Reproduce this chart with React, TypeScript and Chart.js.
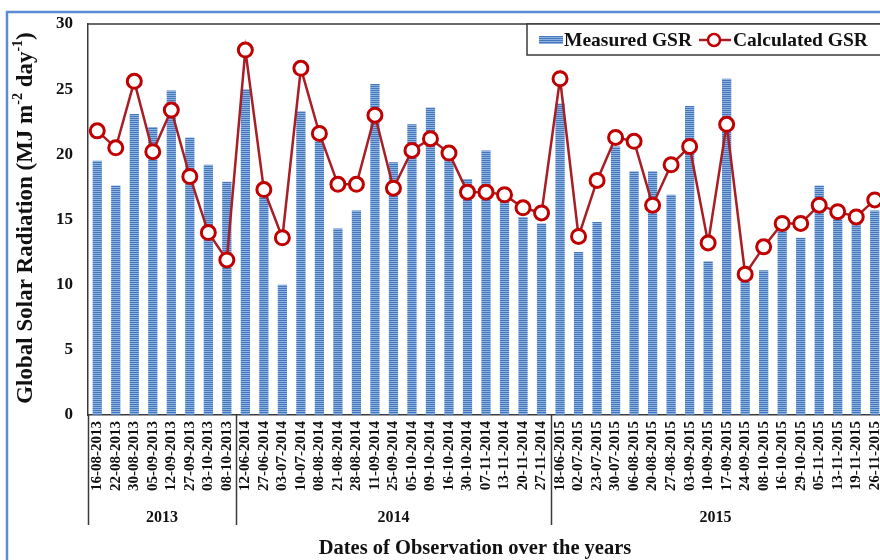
import React, { useEffect, useRef } from 'react';
import { Chart, registerables } from 'chart.js';
Chart.register(...registerables);

const dates = [
  '16-08-2013', '22-08-2013', '30-08-2013', '05-09-2013', '12-09-2013', '27-09-2013', '03-10-2013', '08-10-2013',
  '12-06-2014', '27-06-2014', '03-07-2014', '10-07-2014', '08-08-2014', '21-08-2014', '28-08-2014', '11-09-2014',
  '25-09-2014', '05-10-2014', '09-10-2014', '16-10-2014', '30-10-2014', '07-11-2014', '13-11-2014', '20-11-2014', '27-11-2014',
  '18-06-2015', '02-07-2015', '23-07-2015', '30-07-2015', '06-08-2015', '20-08-2015', '27-08-2015', '03-09-2015',
  '10-09-2015', '17-09-2015', '24-09-2015', '08-10-2015', '16-10-2015', '29-10-2015', '05-11-2015', '13-11-2015',
  '19-11-2015', '26-11-2015',
];

const measuredGSR = [
  19.5, 17.6, 23.1, 22.1, 24.9, 21.3, 19.2, 17.9,
  25.0, 17.0, 10.0, 23.3, 21.0, 14.3, 15.7, 25.4, 19.4, 22.3, 23.6, 19.9, 18.1, 20.3, 16.4, 15.2, 14.7,
  23.9, 12.5, 14.8, 20.6, 18.7, 18.7, 16.9, 23.7, 11.8, 25.8, 10.6, 11.1, 14.2, 13.6, 17.6, 15.2, 14.7, 15.7,
];

const calculatedGSR = [
  21.8, 20.5, 25.6, 20.2, 23.4, 18.3, 14.0, 11.9,
  28.0, 17.3, 13.6, 26.6, 21.6, 17.7, 17.7, 23.0, 17.4, 20.3, 21.2, 20.1, 17.1, 17.1, 16.9, 15.9, 15.5,
  25.8, 13.7, 18.0, 21.3, 21.0, 16.1, 19.2, 20.6, 13.2, 22.3, 10.8, 12.9, 14.7, 14.7, 16.1, 15.6, 15.2, 16.5,
];

const yearLabels = ['2013', '2014', '2015'];
const yearCounts = [8, 17, 18];

const seriesNames = ['Measured GSR', 'Calculated GSR'];
const xTitle = 'Dates of Observation over the years';

const SERIF = '"Liberation Serif", "Times New Roman", serif';
const RED = '#A81E24';
const MARK = '#C00000';
const AXIS = '#3a3a3a';

function makePattern(): CanvasPattern | string {
  const c = document.createElement('canvas');
  c.width = 4;
  c.height = 2;
  const g = c.getContext('2d');
  if (!g) return '#5B8BC9';
  g.fillStyle = '#4477BA';
  g.fillRect(0, 0, 4, 1);
  g.fillStyle = '#8FB3E2';
  g.fillRect(0, 1, 4, 1);
  const p = g.createPattern(c, 'repeat');
  return p || '#5B8BC9';
}

export default function App() {
  const ref = useRef<HTMLCanvasElement | null>(null);

  useEffect(() => {
    const canvas = ref.current;
    if (!canvas) return;
    const pattern = makePattern();

    const decor = {
      id: 'decor',
      afterDraw(chart: any) {
        const ctx = chart.ctx as CanvasRenderingContext2D;
        const area = chart.chartArea;
        const xs = chart.scales.x;
        ctx.save();

        // plot top border
        ctx.strokeStyle = AXIS;
        ctx.lineWidth = 1.5;
        ctx.beginPath();
        ctx.moveTo(area.left, area.top);
        ctx.lineTo(area.right, area.top);
        ctx.stroke();

        // group separators and year labels
        const sepBottom = 525;
        let start = 0;
        const bounds: number[] = [];
        const half = (xs.getPixelForValue(1) - xs.getPixelForValue(0)) / 2;
        bounds.push(xs.getPixelForValue(0) - half);
        yearCounts.forEach((n) => {
          start += n;
          bounds.push(xs.getPixelForValue(start - 1) + half);
        });
        ctx.strokeStyle = AXIS;
        ctx.lineWidth = 1.5;
        bounds.forEach((b, i) => {
          if (i === bounds.length - 1) return;
          ctx.beginPath();
          ctx.moveTo(Math.round(b) + 0.5, area.bottom);
          ctx.lineTo(Math.round(b) + 0.5, sepBottom);
          ctx.stroke();
        });
        ctx.fillStyle = '#111';
        ctx.font = `bold 16px ${SERIF}`;
        ctx.textAlign = 'center';
        ctx.textBaseline = 'middle';
        yearLabels.forEach((y, i) => {
          const l = bounds[i];
          const r = Math.min(bounds[i + 1], 880);
          ctx.fillText(y, (l + r) / 2, 518);
        });

        // x title
        ctx.font = `bold 20.5px ${SERIF}`;
        ctx.fillText(xTitle, 475, 549);

        // y title with superscripts
        const segs: [string, boolean][] = [
          ['Global Solar Radiation (MJ m', false],
          ['-2', true],
          [' day', false],
          ['-1', true],
          [')', false],
        ];
        const big = `bold 23px ${SERIF}`;
        const small = `bold 14px ${SERIF}`;
        let total = 0;
        segs.forEach(([t, s]) => {
          ctx.font = s ? small : big;
          total += ctx.measureText(t).width;
        });
        ctx.save();
        ctx.translate(24, 218);
        ctx.rotate(-Math.PI / 2);
        ctx.textAlign = 'left';
        ctx.textBaseline = 'alphabetic';
        let xx = -total / 2;
        segs.forEach(([t, s]) => {
          ctx.font = s ? small : big;
          ctx.fillText(t, xx, s ? -2 : 8);
          xx += ctx.measureText(t).width;
        });
        ctx.restore();

        // legend
        ctx.fillStyle = '#fff';
        ctx.fillRect(527, 24, 370, 31);
        ctx.strokeStyle = AXIS;
        ctx.lineWidth = 1.5;
        ctx.strokeRect(527, 24, 370, 31);
        ctx.fillStyle = pattern as any;
        ctx.fillRect(539, 36, 24, 8);
        ctx.fillStyle = '#111';
        ctx.font = `bold 19.5px ${SERIF}`;
        ctx.textAlign = 'left';
        ctx.textBaseline = 'middle';
        ctx.fillText(seriesNames[0], 564, 41);
        ctx.strokeStyle = RED;
        ctx.lineWidth = 2.5;
        ctx.beginPath();
        ctx.moveTo(699, 40);
        ctx.lineTo(731, 40);
        ctx.stroke();
        ctx.beginPath();
        ctx.arc(714, 40, 6, 0, Math.PI * 2);
        ctx.fillStyle = '#fff';
        ctx.fill();
        ctx.strokeStyle = MARK;
        ctx.lineWidth = 2.5;
        ctx.stroke();
        ctx.fillStyle = '#111';
        ctx.fillText(seriesNames[1], 733, 41);

        // blue figure frame
        ctx.strokeStyle = '#5B8CD3';
        ctx.lineWidth = 2.5;
        ctx.beginPath();
        ctx.moveTo(7, 560);
        ctx.lineTo(7, 12);
        ctx.lineTo(900, 12);
        ctx.stroke();

        ctx.restore();
      },
    };

    const chart = new Chart(canvas, {
      type: 'bar',
      data: {
        labels: dates,
        datasets: [
          {
            type: 'line',
            label: seriesNames[1],
            data: calculatedGSR,
            borderColor: RED,
            borderWidth: 2.5,
            pointRadius: 7,
            pointBorderWidth: 3,
            pointBackgroundColor: '#fff',
            pointBorderColor: MARK,
            tension: 0,
            order: 0,
          } as any,
          {
            type: 'bar',
            label: seriesNames[0],
            data: measuredGSR,
            backgroundColor: pattern as any,
            borderWidth: 0,
            barPercentage: 0.5,
            categoryPercentage: 1,
            order: 1,
          },
        ],
      },
      options: {
        responsive: false,
        animation: false,
        layout: { padding: { top: 24, left: 0, right: 0, bottom: 0 } },
        plugins: {
          legend: { display: false },
          tooltip: { enabled: false },
          title: { display: false },
        },
        scales: {
          x: {
            grid: { display: false, drawTicks: false },
            border: { display: true, color: AXIS, width: 1.5 },
            ticks: {
              autoSkip: false,
              minRotation: 90,
              maxRotation: 90,
              padding: 6,
              color: '#111',
              font: { family: SERIF, size: 15, weight: 'bold' },
            },
            afterFit(scale: any) {
              scale.height = 145;
              scale.paddingLeft = 0;
              scale.paddingRight = 0;
            },
          },
          y: {
            min: 0,
            max: 30,
            grid: { display: false, drawTicks: false },
            border: { display: true, color: AXIS, width: 1.5 },
            ticks: {
              stepSize: 5,
              padding: 15,
              color: '#111',
              font: { family: SERIF, size: 17, weight: 'bold' },
            },
            afterFit(scale: any) {
              scale.width = 88;
              scale.paddingTop = 0;
              scale.paddingBottom = 0;
            },
          },
        },
      },
      plugins: [decor],
    });

    return () => chart.destroy();
  }, []);

  return (
    <div
      style={{
        position: 'fixed',
        left: 0,
        top: 0,
        width: 880,
        height: 560,
        overflow: 'hidden',
        background: '#fff',
      }}
    >
      <canvas ref={ref} width={894} height={560} style={{ width: 894, height: 560, display: 'block' }} />
    </div>
  );
}
